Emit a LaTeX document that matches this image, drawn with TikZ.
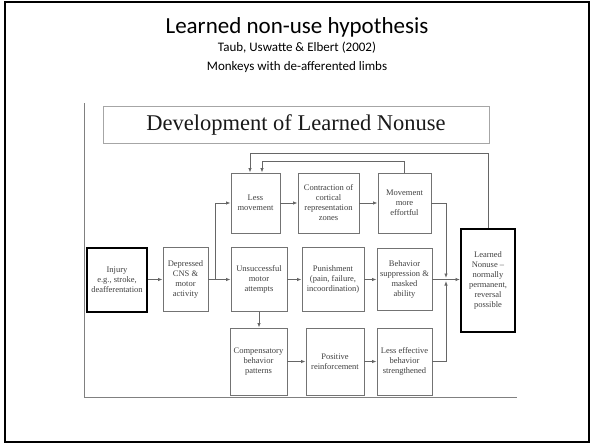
\documentclass[tikz,border=0pt]{standalone}
\usepackage{fontspec}
\setmainfont{Liberation Serif}
\newfontfamily\calib{Carlito}
\usetikzlibrary{arrows.meta,calc}
\begin{document}
\begin{tikzpicture}[x=1pt,y=-1pt,
  box/.style={draw=black!55, line width=0.9pt, align=center, inner sep=1pt,
    font=\fontsize{8.5}{10}\selectfont, text=black!75},
  tbox/.style={box, draw=black, line width=2pt},
  arr/.style={draw=black!60, line width=0.8pt, -{Latex[length=4.5pt,width=3.5pt]}},
  ttl/.style={font=\calib\fontsize{23}{27}\selectfont},
  sub/.style={font=\calib\fontsize{13}{15}\selectfont}]
\useasboundingbox (0,0) rectangle (594,444);
\draw[line width=2.5pt] (5,2) rectangle (589,442);
\node[ttl] (title) at (297,27) {Learned non-use hypothesis};
\node[sub] (sub1) at (297,48) {Taub, Uswatte \& Elbert (2002)};
\node[sub] (sub2) at (297,67) {Monkeys with de-afferented limbs};
% scanned image edges
\draw[black!50, line width=0.8pt] (84.5,103) -- (84.5,397.5) -- (517,397.5);
\node[draw=black!35, line width=0.8pt, minimum width=386pt, minimum height=37pt,
  font=\fontsize{22.5}{26}\selectfont, text=black!90] (dev) at (296,124.5) {Development of Learned Nonuse};
% row 1
\node[box, minimum width=49pt, minimum height=60pt] (less) at (255.5,203) {Less\\movement};
\node[box, minimum width=61pt, minimum height=60pt] (contr) at (328.5,203) {Contraction of\\cortical\\representation\\zones};
\node[box, minimum width=53pt, minimum height=60pt] (move) at (404.5,203) {Movement\\more\\effortful};
% row 2
\node[tbox, minimum width=60pt, minimum height=64pt] (injury) at (117,279.5) {Injury\\e.g., stroke,\\deafferentation};
\node[box, minimum width=45pt, minimum height=64pt] (depr) at (185.5,279.5) {Depressed\\CNS \&\\motor\\activity};
\node[box, minimum width=56pt, minimum height=64pt] (unsucc) at (259,279.5) {Unsuccessful\\motor\\attempts};
\node[box, minimum width=62pt, minimum height=64pt] (pun) at (333,279.5) {Punishment\\(pain, failure,\\incoordination)};
\node[box, minimum width=55pt, minimum height=62pt] (behav) at (404.5,279.5) {Behavior\\suppression \&\\masked\\ability};
\node[tbox, minimum width=54pt, minimum height=103pt] (learned) at (488,280.5) {Learned\\Nonuse --\\normally\\permanent,\\reversal\\possible};
% row 3
\node[box, minimum width=57pt, minimum height=67pt] (comp) at (258.5,361.5) {Compensatory\\behavior\\patterns};
\node[box, minimum width=58pt, minimum height=67pt] (pos) at (335,361.5) {Positive\\reinforcement};
\node[box, minimum width=55pt, minimum height=67pt] (lesseff) at (404.5,361.5) {Less effective\\behavior\\strengthened};
% connectors
\draw[arr] (injury.east) -- (injury.east -| depr.west);
\coordinate (br) at ($(depr.east)!0.3!(unsucc.west)$);
\draw[arr] (depr.east) -- (unsucc.west);
\draw[arr] (br) |- (less.west);
\draw[arr] (less) -- (contr);
\draw[arr] (contr) -- (move);
\draw[arr] (unsucc) -- (pun);
\draw[arr] (pun) -- (behav);
\draw[arr] (behav.east) -- (behav.east -| learned.west);
\coordinate (col) at (446,0);
\draw[arr] (move.east) -| ($(col |- behav.east)+(0,-1.5)$);
\draw[arr] (lesseff.east) -| ($(col |- behav.east)+(0,1.5)$);
\draw[arr] (unsucc.south) -- (unsucc.south |- comp.north);
\draw[arr] (comp) -- (pos);
\draw[arr] (pos) -- (lesseff);
\coordinate (fbo) at (250,153);
\coordinate (fbi) at (262,161);
\draw[arr] (learned.north) |- (fbo) -- (fbo |- less.north);
\draw[arr] (move.north) |- (fbi) -- (fbi |- less.north);
\end{tikzpicture}
\end{document}
